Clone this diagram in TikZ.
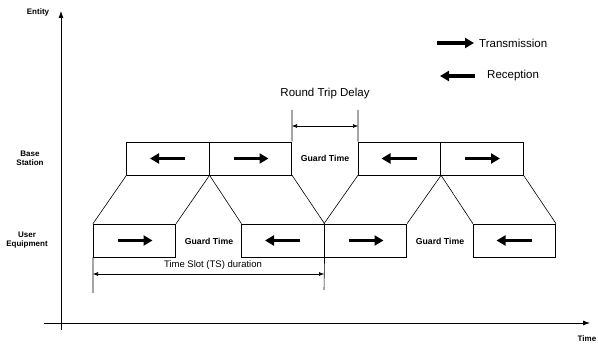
\documentclass[tikz,border=0pt]{standalone}
\usepackage{fontspec}
\setmainfont{Liberation Sans}
\usetikzlibrary{arrows.meta}
\tikzset{
  slot/.style={draw, line width=0.6pt, minimum width=82.5pt, minimum height=33pt, inner sep=0pt},
  fat/.style={line width=3.6pt, -{Triangle[length=9pt,width=10pt]}, shorten >=-1pt},
  thin/.style={line width=0.6pt},
  dim/.style={line width=0.6pt, {Latex[length=5pt,width=4pt]}-{Latex[length=5pt,width=4pt]}},
  axis/.style={line width=0.8pt, -{Latex[length=7pt,width=5pt]}},
  small/.style={font=\fontsize{8}{9}\selectfont\bfseries, inner sep=0pt},
  gt/.style={font=\fontsize{8.7}{10}\selectfont\bfseries, inner sep=0pt},
  big/.style={font=\fontsize{11.5}{13}\selectfont, inner sep=0pt},
}
\begin{document}
\begin{tikzpicture}[x=1pt,y=-1pt]
\useasboundingbox (0,0) rectangle (598,347);
% axes
\coordinate (yb) at (61,330);
\coordinate (yt) at (61,11);
\coordinate (xl) at (44,323);
\coordinate (xr) at (590,323);
\draw[axis] (yb) -- (yt);
\draw[axis] (xl) -- (xr);
\node[small] (ent) at (38,12) {Entity};
\node[small] (tim) at (587,339) {Time};
\node[small, align=center] (bs) at (30,158.5) {Base\\Station};
\node[small, align=center] (ue) at (27,240.5) {User\\Equipment};
% base station slots
\node[slot] (b1) at (168,158.5) {};
\node[slot] (b2) at (250.5,158.5) {};
\node[slot] (b3) at (399.5,158.5) {};
\node[slot] (b4) at (482,158.5) {};
% user equipment slots
\node[slot] (u1) at (134.5,240.5) {};
\node[slot] (u2) at (283,240.5) {};
\node[slot] (u3) at (365.5,240.5) {};
\node[slot] (u4) at (514.5,240.5) {};
% direction arrows
\draw[fat] ([xshift=17pt]b1.center) -- ([xshift=-17pt]b1.center);
\draw[fat] ([xshift=-17pt]b2.center) -- ([xshift=17pt]b2.center);
\draw[fat] ([xshift=17pt]b3.center) -- ([xshift=-17pt]b3.center);
\draw[fat] ([xshift=-17pt]b4.center) -- ([xshift=17pt]b4.center);
\draw[fat] ([xshift=-17pt]u1.center) -- ([xshift=17pt]u1.center);
\draw[fat] ([xshift=17pt]u2.center) -- ([xshift=-17pt]u2.center);
\draw[fat] ([xshift=-17pt]u3.center) -- ([xshift=17pt]u3.center);
\draw[fat] ([xshift=17pt]u4.center) -- ([xshift=-17pt]u4.center);
% propagation lines
\draw[thin] (b1.south west) -- (u1.north west);
\draw[thin] (b1.south east) -- (u1.north east);
\draw[thin] (b1.south east) -- (u2.north west);
\draw[thin] (b2.south east) -- (u2.north east);
\draw[thin] (b3.south west) -- (u3.north west);
\draw[thin] (b3.south east) -- (u3.north east);
\draw[thin] (b3.south east) -- (u4.north west);
\draw[thin] (b4.south east) -- (u4.north east);
% guard time labels
\node[gt] (g1) at (325,158.5) {Guard Time};
\node[gt] (g2) at (209,241) {Guard Time};
\node[gt] (g3) at (440,241) {Guard Time};
% round trip delay
\coordinate (r1) at (292,110);
\coordinate (r2) at (358,110);
\coordinate (ra) at (292,126);
\coordinate (rb) at (358,126);
\draw[thin] (r1) -- (b2.north east);
\draw[thin] (r2) -- (b3.north west);
\draw[dim] (ra) -- (rb);
\node[big] (rtd) at (325,94) {Round Trip Delay};
% time slot duration
\coordinate (t1) at (93,293);
\coordinate (t2) at (324,290);
\coordinate (ta) at (93,274);
\coordinate (tb) at (324,274);
\draw[thin] (u1.south west) -- (t1);
\draw[thin] (u2.south east) -- (t2);
\draw[dim] (ta) -- (tb);
\node[font=\fontsize{9.5}{11}\selectfont, inner sep=0pt] (ts) at (213,265.5) {Time Slot (TS) duration};
% legend
\coordinate (la) at (437,43);
\coordinate (lb) at (473,43);
\coordinate (lc) at (475,76);
\coordinate (ld) at (441,76);
\draw[fat] (la) -- (lb);
\draw[fat] (lc) -- (ld);
\node[big, anchor=west] (ltx) at (479,43) {Transmission};
\node[big, anchor=west] (lrx) at (487,76) {Reception};
\end{tikzpicture}
\end{document}
